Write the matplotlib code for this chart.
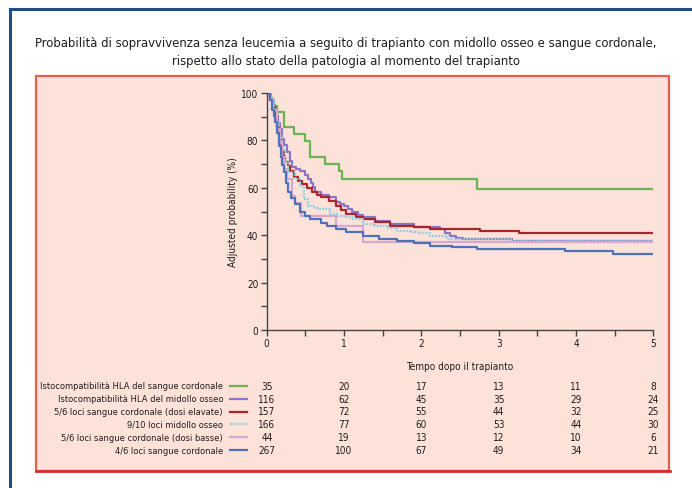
import matplotlib
matplotlib.use("Agg")
import matplotlib.pyplot as plt
from matplotlib.patches import Rectangle
from matplotlib.lines import Line2D
from matplotlib.transforms import blended_transform_factory
import matplotlib.font_manager as fm

cond = None
for f in fm.fontManager.ttflist:
    fn = f.fname.lower()
    if ('condensed' in fn or 'narrow' in fn) and 'bold' not in fn and 'oblique' not in fn \
            and 'italic' not in fn and 'light' not in fn and 'semi' not in fn and 'medium' not in fn \
            and 'black' not in fn and 'thin' not in fn and 'extra' not in fn:
        cond = f.fname
        break

if cond:
    FP = fm.FontProperties(fname=cond)
    BASE = 1.0
else:
    FP = fm.FontProperties(family=['Lato', 'DejaVu Sans'])
    BASE = 0.9

def fp(size):
    p = FP.copy()
    p.set_size(size * BASE)
    return p

title = ("Probabilità di sopravvivenza senza leucemia a seguito di trapianto con midollo osseo e sangue cordonale,\n"
         "rispetto allo stato della patologia al momento del trapianto")
xlabel = "Tempo dopo il trapianto"
ylabel = "Adjusted probability (%)"

labels = ["Istocompatibilità HLA del sangue cordonale",
          "Istocompatibilità HLA del midollo osseo",
          "5/6 loci sangue cordonale (dosi elavate)",
          "9/10 loci midollo osseo",
          "5/6 loci sangue cordonale (dosi basse)",
          "4/6 loci sangue cordonale"]

at_risk = [[35, 20, 17, 13, 11, 8],
           [116, 62, 45, 35, 29, 24],
           [157, 72, 55, 44, 32, 25],
           [166, 77, 60, 53, 44, 30],
           [44, 19, 13, 12, 10, 6],
           [267, 100, 67, 49, 34, 21]]

green_t = [0, 0.06, 0.10, 0.13, 0.22, 0.35, 0.50, 0.56, 0.76, 0.93, 0.97, 2.72, 5]
green_p = [100, 97, 94.5, 91.8, 85.5, 82.7, 79.9, 72.9, 70.0, 67.2, 63.7, 59.6, 59.6]

purple_t = [0, 0.04, 0.08, 0.11, 0.13, 0.15, 0.17, 0.20, 0.23, 0.26, 0.30, 0.33, 0.38, 0.43, 0.49,
            0.54, 0.57, 0.60, 0.63, 0.70, 0.80, 0.90, 0.95, 1.0, 1.05, 1.10, 1.18, 1.25, 1.40, 1.60,
            1.90, 2.24, 2.30, 2.37, 2.45, 2.54, 3.17, 5]
purple_p = [100, 98, 95, 93, 90.4, 87.5, 85, 80.6, 78, 75, 71.5, 68.6, 67.8, 67.2, 65.5,
            63.7, 62, 60.5, 58.1, 57, 56, 54, 53, 52.4, 51, 50, 48.5, 47.5, 46, 44.7,
            43.3, 42.6, 41, 39.8, 39, 38.4, 37.7, 37.7]

red_t = [0, 0.04, 0.08, 0.11, 0.13, 0.155, 0.18, 0.20, 0.22, 0.24, 0.27, 0.30, 0.35, 0.40, 0.46,
         0.52, 0.59, 0.65, 0.70, 0.80, 0.90, 0.96, 1.03, 1.15, 1.25, 1.40, 1.60, 1.90, 2.11, 2.76,
         3.26, 5]
red_p = [100, 97, 94, 90.4, 85.5, 80.6, 77.5, 75, 73, 70.8, 69, 67, 64.4, 63, 61.6,
         60, 58.1, 57, 56, 54.6, 52.5, 50.5, 48.9, 47.8, 46.8, 45.5, 44, 43.3, 42.6, 41.9,
         40.8, 40.8]

cyan_t = [0, 0.05, 0.09, 0.13, 0.16, 0.20, 0.24, 0.28, 0.37, 0.43, 0.48, 0.54, 0.62, 0.69, 0.82,
          0.91, 1.0, 1.12, 1.25, 1.40, 1.55, 1.68, 1.85, 1.98, 2.11, 2.33, 3.17, 5]
cyan_p = [100, 97, 93, 87.6, 82, 76.4, 71, 66.5, 63.7, 60.9, 55.3, 52.4, 51.5, 51, 48.9,
          48.2, 47.5, 46.8, 44.7, 44, 43.2, 41.9, 41.5, 41.1, 39.8, 38.4, 37.7, 37.7]

pink_t = [0, 0.04, 0.08, 0.13, 0.17, 0.20, 0.23, 0.26, 0.33, 0.37, 0.45, 0.90, 1.25, 5]
pink_p = [100, 97.7, 93, 85, 79, 73, 68, 63.7, 56.7, 53.5, 48.0, 44.0, 37.3, 37.3]

blue_t = [0, 0.04, 0.07, 0.09, 0.11, 0.13, 0.155, 0.18, 0.20, 0.22, 0.25, 0.28, 0.32, 0.37, 0.43,
          0.50, 0.56, 0.70, 0.78, 0.90, 1.03, 1.25, 1.45, 1.68, 1.90, 2.11, 2.40, 2.72, 3.86, 4.48, 5]
blue_p = [100, 97, 93, 90.5, 87.6, 83, 77.8, 73, 69.5, 66.5, 62, 58.1, 55.5, 53.2, 49.6,
          48, 46.8, 45, 43.9, 42.6, 41.2, 39.8, 38.5, 37.7, 36.5, 35.6, 35, 34.2, 33.5, 32.1, 32.1]

series_t = [green_t, purple_t, red_t, cyan_t, pink_t, blue_t]
series_p = [green_p, purple_p, red_p, cyan_p, pink_p, blue_p]
colors = ['#6db356', '#8e74c4', '#a8262e', '#8fcde2', '#d8a7cf', '#4d72b8']
styles = ['-', '-', '-', (0, (0.8, 0.6)), '-', '-']

W, H = 692, 489
fig = plt.figure(figsize=(W / 100, H / 100), dpi=100)
fig.patch.set_facecolor('white')

def fx(px):
    return px / W

def fy(py):
    return 1 - py / H

# outer blue frame (left and top)
fig.add_artist(Line2D([fx(10), fx(10)], [fy(10), 0], color='#1f4d86', lw=2.2, zorder=-5))
fig.add_artist(Line2D([fx(10), 1], [fy(10), fy(10)], color='#1f4d86', lw=2.2, zorder=-5))

# pink panel
fig.add_artist(Rectangle((fx(36), fy(472)), fx(669) - fx(36), fy(77) - fy(472),
                         facecolor='#fce2d8', edgecolor='#e3614a', lw=1.6, zorder=-5))
fig.add_artist(Line2D([fx(36), fx(670)], [fy(472), fy(472)], color='#d2302a', lw=2.0, zorder=-4))

TXT = '#1e1e1e'
tl = title.split("\n")
fig.text(0.5, fy(44), tl[0], ha='center', va='center', fontproperties=fp(9.4), color=TXT)
fig.text(0.5, fy(61), tl[1], ha='center', va='center', fontproperties=fp(9.4), color=TXT)

x0, x1 = 266.7, 653.3
y0, y1 = 331.0, 94.0
ax = fig.add_axes([fx(x0), fy(y0), fx(x1) - fx(x0), fy(y1) - fy(y0)], zorder=2)
ax.set_facecolor('none')
for s in ['top', 'right']:
    ax.spines[s].set_visible(False)
for s in ['left', 'bottom']:
    ax.spines[s].set_color('#444444')
    ax.spines[s].set_linewidth(1.0)

for t, p, c, ls in zip(series_t, series_p, colors, styles):
    ax.plot(t, p, drawstyle='steps-post', color=c, lw=1.6, ls=ls, solid_capstyle='butt')

ax.set_xlim(0, 5)
ax.set_ylim(0, 100)
ax.set_xticks([0, 1, 2, 3, 4, 5])
ax.set_xticks([0.5, 1.5, 2.5, 3.5, 4.5], minor=True)
ax.set_yticks([0, 20, 40, 60, 80, 100])
ax.set_yticks([10, 30, 50, 70, 90], minor=True)
ax.tick_params(axis='both', which='both', direction='out', length=4, width=1.0,
               color='#444444', labelcolor=TXT, pad=2)
for lab in ax.get_xticklabels() + ax.get_yticklabels():
    lab.set_fontproperties(fp(7.2))
ax.set_xlabel(xlabel, fontproperties=fp(7.2), color=TXT, labelpad=9)
ax.set_ylabel(ylabel, fontproperties=fp(7.2), color=TXT, labelpad=2)

trans = blended_transform_factory(ax.transData, fig.transFigure)
for i, (lab, c, ls, nums) in enumerate(zip(labels, colors, styles, at_risk)):
    ypx = 386.7 + 12.9 * i
    fig.text(fx(223), fy(ypx), lab, ha='right', va='center', fontproperties=fp(6.7), color=TXT)
    fig.add_artist(Line2D([fx(230), fx(247)], [fy(ypx), fy(ypx)], color=c, lw=1.6, ls=ls))
    for k, n in enumerate(nums):
        ax.text(k, fy(ypx), str(n), transform=trans, ha='center', va='center',
                fontproperties=fp(7.2), color=TXT, clip_on=False)

fig.savefig('out.png', dpi=100, facecolor='white')
